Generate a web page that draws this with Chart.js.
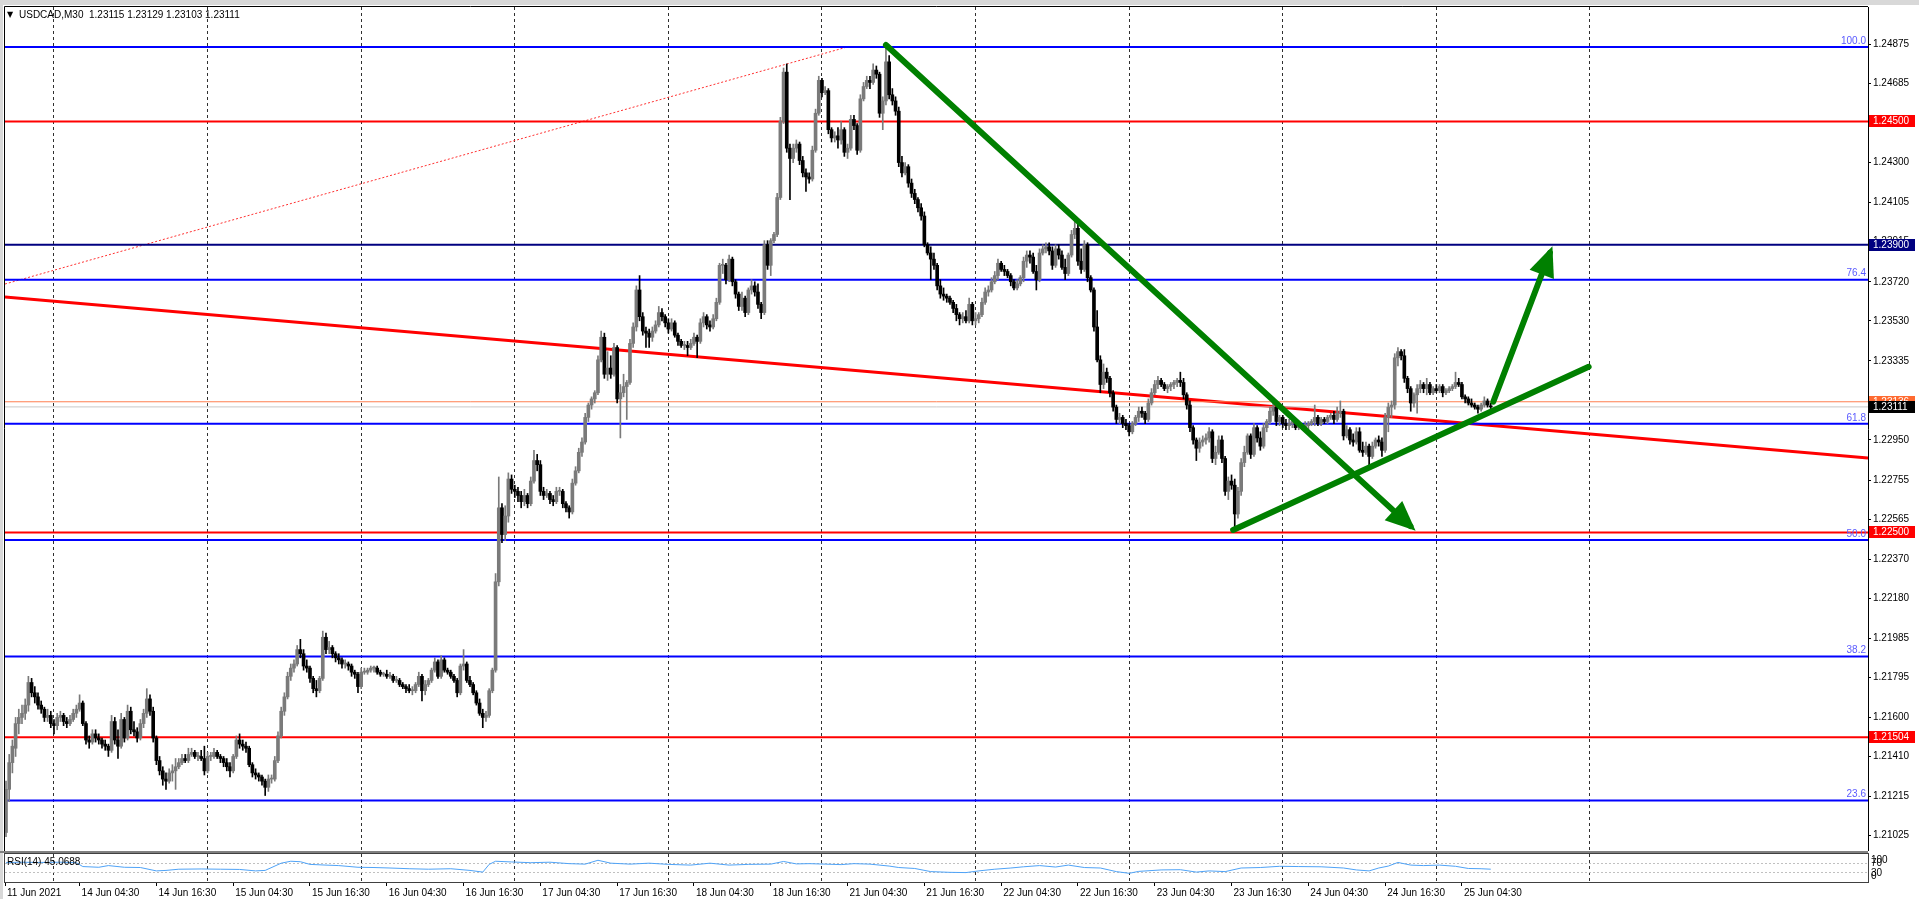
<!DOCTYPE html>
<html>
<head>
<meta charset="utf-8">
<title>USDCAD,M30</title>
<script src="https://cdn.jsdelivr.net/npm/chart.js@4.4.1/dist/chart.umd.min.js"></script>
<style>
  html, body { margin: 0; padding: 0; background: #fff; }
  body { width: 1919px; height: 899px; position: relative; overflow: hidden; }
  #price { position: absolute; left: 0; top: 0; }
  #rsi { position: absolute; left: 0; top: 851px; }
</style>
</head>
<body>
<canvas id="price" width="1919" height="851"></canvas>
<canvas id="rsi" width="1919" height="48"></canvas>
<script>
const symbolTitle = 'USDCAD,M30  1.23115 1.23129 1.23103 1.23111';
const rsiTitle = 'RSI(14) 45.0688';

// M30 candles [open, high, low, close], 11 Jun 2021 evening .. 25 Jun 2021 morning
const candles = [
  [1.2104,1.2129,1.2102,1.2125],[1.2125,1.2142,1.2119,1.2138],[1.2138,1.2149,1.2133,1.2146],[1.2145,1.2160,1.2141,1.2157],[1.2157,1.2164,1.2152,1.2160],
  [1.2160,1.2166,1.2157,1.2162],[1.2162,1.2169,1.2159,1.2166],[1.2166,1.2180,1.2163,1.2177],[1.2177,1.2179,1.2170,1.2172],[1.2172,1.2175,1.2167,1.2170],
  [1.2170,1.2172,1.2164,1.2166],[1.2166,1.2168,1.2162,1.2164],[1.2164,1.2165,1.2158,1.2160],[1.2160,1.2164,1.2158,1.2161],[1.2161,1.2163,1.2155,1.2157],
  [1.2157,1.2159,1.2152,1.2156],[1.2156,1.2162,1.2154,1.2160],[1.2160,1.2163,1.2158,1.2161],[1.2161,1.2162,1.2156,1.2158],[1.2158,1.2160,1.2155,1.2157],
  [1.2157,1.2161,1.2156,1.2159],[1.2159,1.2164,1.2158,1.2162],[1.2162,1.2166,1.2160,1.2164],[1.2164,1.2171,1.2163,1.2167],[1.2167,1.2168,1.2156,1.2157],
  [1.2157,1.2158,1.2147,1.2149],[1.2149,1.2151,1.2145,1.2148],[1.2148,1.2154,1.2147,1.2152],[1.2152,1.2154,1.2148,1.2150],[1.2150,1.2152,1.2147,1.2149],
  [1.2149,1.2150,1.2145,1.2147],[1.2147,1.2149,1.2144,1.2146],[1.2146,1.2147,1.2141,1.2144],[1.2144,1.2161,1.2143,1.2158],[1.2158,1.2160,1.2147,1.2149],
  [1.2149,1.2154,1.2140,1.2146],[1.2146,1.2162,1.2145,1.2159],[1.2159,1.2160,1.2148,1.2150],[1.2150,1.2166,1.2149,1.2163],[1.2163,1.2165,1.2152,1.2154],
  [1.2154,1.2158,1.2151,1.2153],[1.2153,1.2155,1.2148,1.2150],[1.2150,1.2159,1.2149,1.2157],[1.2157,1.2164,1.2155,1.2162],[1.2162,1.2174,1.2160,1.2169],
  [1.2169,1.2171,1.2161,1.2163],[1.2163,1.2165,1.2148,1.2150],[1.2150,1.2151,1.2137,1.2139],[1.2139,1.2141,1.2132,1.2134],[1.2134,1.2136,1.2127,1.2130],
  [1.2130,1.2133,1.2125,1.2129],[1.2129,1.2135,1.2128,1.2133],[1.2133,1.2137,1.2129,1.2134],[1.2134,1.2140,1.2125,1.2136],[1.2136,1.2140,1.2135,1.2138],
  [1.2138,1.2142,1.2137,1.2140],[1.2140,1.2142,1.2138,1.2139],[1.2139,1.2145,1.2138,1.2142],[1.2142,1.2145,1.2141,1.2143],[1.2143,1.2144,1.2140,1.2141],
  [1.2141,1.2143,1.2139,1.2141],[1.2141,1.2144,1.2139,1.2140],[1.2140,1.2146,1.2132,1.2134],[1.2134,1.2143,1.2133,1.2141],[1.2141,1.2143,1.2139,1.2141],
  [1.2141,1.2145,1.2140,1.2143],[1.2143,1.2144,1.2140,1.2141],[1.2141,1.2142,1.2138,1.2140],[1.2140,1.2141,1.2136,1.2138],[1.2138,1.2140,1.2134,1.2136],
  [1.2136,1.2138,1.2131,1.2134],[1.2134,1.2142,1.2133,1.2141],[1.2141,1.2151,1.2140,1.2149],[1.2149,1.2152,1.2145,1.2147],[1.2147,1.2149,1.2144,1.2146],
  [1.2146,1.2148,1.2143,1.2145],[1.2145,1.2146,1.2136,1.2137],[1.2137,1.2138,1.2131,1.2133],[1.2133,1.2135,1.2130,1.2132],[1.2132,1.2133,1.2129,1.2131],
  [1.2131,1.2132,1.2127,1.2129],[1.2129,1.2130,1.2122,1.2126],[1.2126,1.2132,1.2124,1.2130],[1.2130,1.2132,1.2128,1.2130],[1.2130,1.2141,1.2129,1.2139],
  [1.2139,1.2153,1.2138,1.2151],[1.2151,1.2165,1.2150,1.2163],[1.2163,1.2172,1.2161,1.2170],[1.2170,1.2182,1.2169,1.2180],[1.2180,1.2186,1.2178,1.2184],
  [1.2184,1.2188,1.2182,1.2186],[1.2186,1.2195,1.2185,1.2193],[1.2193,1.2198,1.2189,1.2191],[1.2191,1.2193,1.2183,1.2185],[1.2185,1.2188,1.2182,1.2184],
  [1.2184,1.2185,1.2177,1.2179],[1.2179,1.2180,1.2172,1.2174],[1.2174,1.2178,1.2170,1.2173],[1.2173,1.2180,1.2172,1.2179],[1.2179,1.2202,1.2178,1.2199],
  [1.2199,1.2201,1.2191,1.2193],[1.2193,1.2197,1.2191,1.2194],[1.2194,1.2195,1.2189,1.2191],[1.2191,1.2192,1.2187,1.2189],[1.2189,1.2191,1.2186,1.2188],
  [1.2188,1.2189,1.2184,1.2186],[1.2186,1.2188,1.2184,1.2186],[1.2186,1.2187,1.2183,1.2185],[1.2185,1.2186,1.2180,1.2182],[1.2182,1.2183,1.2179,1.2181],
  [1.2181,1.2182,1.2172,1.2175],[1.2175,1.2184,1.2174,1.2182],[1.2182,1.2184,1.2181,1.2182],[1.2182,1.2184,1.2181,1.2183],[1.2183,1.2185,1.2182,1.2184],
  [1.2184,1.2185,1.2182,1.2184],[1.2184,1.2185,1.2181,1.2182],[1.2182,1.2183,1.2180,1.2181],[1.2181,1.2182,1.2180,1.2181],[1.2181,1.2183,1.2179,1.2180],
  [1.2180,1.2182,1.2179,1.2180],[1.2180,1.2181,1.2177,1.2178],[1.2178,1.2180,1.2177,1.2178],[1.2178,1.2179,1.2175,1.2176],[1.2176,1.2177,1.2174,1.2175],
  [1.2175,1.2176,1.2172,1.2174],[1.2174,1.2176,1.2172,1.2173],[1.2173,1.2175,1.2171,1.2173],[1.2173,1.2177,1.2172,1.2176],[1.2176,1.2182,1.2175,1.2180],
  [1.2180,1.2181,1.2168,1.2173],[1.2173,1.2178,1.2171,1.2176],[1.2176,1.2179,1.2175,1.2178],[1.2178,1.2184,1.2177,1.2183],[1.2183,1.2189,1.2182,1.2187],
  [1.2187,1.2188,1.2179,1.2180],[1.2180,1.2190,1.2179,1.2188],[1.2188,1.2189,1.2182,1.2183],[1.2183,1.2184,1.2181,1.2182],[1.2182,1.2183,1.2179,1.2180],
  [1.2180,1.2181,1.2177,1.2178],[1.2178,1.2179,1.2170,1.2172],[1.2172,1.2186,1.2171,1.2185],[1.2185,1.2193,1.2183,1.2186],[1.2186,1.2187,1.2177,1.2178],
  [1.2178,1.2180,1.2175,1.2176],[1.2176,1.2177,1.2171,1.2172],[1.2172,1.2173,1.2166,1.2167],[1.2167,1.2169,1.2161,1.2162],[1.2162,1.2164,1.2155,1.2160],
  [1.2160,1.2163,1.2158,1.2161],[1.2161,1.2174,1.2160,1.2173],[1.2173,1.2184,1.2172,1.2183],[1.2183,1.2230,1.2182,1.2226],[1.2226,1.2277,1.2224,1.2262],
  [1.2262,1.2264,1.2245,1.2249],[1.2249,1.2263,1.2246,1.2258],[1.2258,1.2279,1.2255,1.2276],[1.2276,1.2278,1.2269,1.2271],[1.2271,1.2273,1.2267,1.2270],
  [1.2270,1.2272,1.2265,1.2268],[1.2268,1.2270,1.2262,1.2265],[1.2265,1.2271,1.2263,1.2268],[1.2268,1.2269,1.2262,1.2264],[1.2264,1.2277,1.2263,1.2275],
  [1.2275,1.2290,1.2274,1.2285],[1.2285,1.2288,1.2280,1.2283],[1.2283,1.2285,1.2268,1.2270],[1.2270,1.2272,1.2266,1.2268],[1.2268,1.2271,1.2267,1.2269],
  [1.2269,1.2270,1.2264,1.2266],[1.2266,1.2268,1.2263,1.2265],[1.2265,1.2272,1.2264,1.2270],[1.2270,1.2272,1.2268,1.2270],[1.2270,1.2271,1.2262,1.2264],
  [1.2264,1.2265,1.2260,1.2262],[1.2262,1.2263,1.2257,1.2260],[1.2260,1.2276,1.2259,1.2274],[1.2274,1.2282,1.2273,1.2280],[1.2280,1.2291,1.2279,1.2289],
  [1.2289,1.2296,1.2287,1.2294],[1.2294,1.2308,1.2293,1.2306],[1.2306,1.2313,1.2304,1.2312],[1.2312,1.2316,1.2310,1.2315],[1.2315,1.2319,1.2313,1.2318],
  [1.2318,1.2336,1.2317,1.2334],[1.2334,1.2348,1.2333,1.2345],[1.2345,1.2347,1.2325,1.2327],[1.2327,1.2338,1.2324,1.2330],[1.2330,1.2336,1.2325,1.2327],
  [1.2327,1.2342,1.2326,1.2340],[1.2340,1.2341,1.2313,1.2315],[1.2315,1.2322,1.2296,1.2318],[1.2318,1.2327,1.2316,1.2321],[1.2321,1.2324,1.2305,1.2323],
  [1.2323,1.2344,1.2322,1.2342],[1.2342,1.2352,1.2340,1.2350],[1.2350,1.2370,1.2348,1.2368],[1.2368,1.2375,1.2353,1.2355],[1.2355,1.2357,1.2346,1.2348],
  [1.2348,1.2350,1.2340,1.2347],[1.2347,1.2349,1.2340,1.2345],[1.2345,1.2350,1.2343,1.2348],[1.2348,1.2353,1.2347,1.2351],[1.2351,1.2360,1.2350,1.2357],
  [1.2357,1.2359,1.2353,1.2355],[1.2355,1.2356,1.2350,1.2352],[1.2352,1.2354,1.2347,1.2349],[1.2349,1.2354,1.2348,1.2352],[1.2352,1.2353,1.2345,1.2346],
  [1.2346,1.2347,1.2341,1.2343],[1.2343,1.2344,1.2340,1.2341],[1.2341,1.2343,1.2339,1.2341],[1.2341,1.2343,1.2336,1.2340],[1.2340,1.2344,1.2339,1.2342],
  [1.2342,1.2347,1.2341,1.2345],[1.2345,1.2346,1.2335,1.2343],[1.2343,1.2354,1.2342,1.2352],[1.2352,1.2357,1.2350,1.2355],[1.2355,1.2356,1.2349,1.2351],
  [1.2351,1.2353,1.2348,1.2350],[1.2350,1.2356,1.2349,1.2354],[1.2354,1.2364,1.2353,1.2362],[1.2362,1.2381,1.2361,1.2380],[1.2380,1.2383,1.2376,1.2380],
  [1.2380,1.2381,1.2371,1.2373],[1.2373,1.2385,1.2372,1.2383],[1.2383,1.2384,1.2370,1.2372],[1.2372,1.2373,1.2364,1.2366],[1.2366,1.2367,1.2358,1.2360],
  [1.2360,1.2367,1.2358,1.2364],[1.2364,1.2365,1.2355,1.2357],[1.2357,1.2369,1.2356,1.2368],[1.2368,1.2373,1.2366,1.2370],[1.2370,1.2372,1.2365,1.2367],
  [1.2367,1.2371,1.2359,1.2361],[1.2361,1.2362,1.2354,1.2357],[1.2357,1.2392,1.2356,1.2390],[1.2390,1.2392,1.2378,1.2380],[1.2380,1.2393,1.2375,1.2392],
  [1.2392,1.2396,1.2391,1.2395],[1.2395,1.2415,1.2394,1.2413],[1.2413,1.2452,1.2412,1.2450],[1.2450,1.2476,1.2449,1.2474],[1.2474,1.2478,1.2435,1.2437],
  [1.2437,1.2439,1.2412,1.2432],[1.2432,1.2439,1.2430,1.2437],[1.2437,1.2441,1.2435,1.2439],[1.2439,1.2440,1.2429,1.2431],[1.2431,1.2433,1.2423,1.2425],
  [1.2425,1.2427,1.2416,1.2423],[1.2423,1.2425,1.2420,1.2422],[1.2422,1.2438,1.2421,1.2436],[1.2436,1.2456,1.2435,1.2454],[1.2454,1.2472,1.2453,1.2470],
  [1.2470,1.2471,1.2462,1.2464],[1.2464,1.2467,1.2463,1.2465],[1.2465,1.2466,1.2444,1.2446],[1.2446,1.2447,1.2440,1.2442],[1.2442,1.2445,1.2440,1.2443],
  [1.2443,1.2447,1.2437,1.2441],[1.2441,1.2450,1.2439,1.2446],[1.2446,1.2447,1.2433,1.2435],[1.2435,1.2439,1.2432,1.2437],[1.2437,1.2453,1.2436,1.2451],
  [1.2451,1.2453,1.2446,1.2448],[1.2448,1.2449,1.2434,1.2436],[1.2436,1.2463,1.2435,1.2461],[1.2461,1.2469,1.2460,1.2467],[1.2467,1.2472,1.2466,1.2470],
  [1.2470,1.2472,1.2466,1.2469],[1.2469,1.2478,1.2468,1.2475],[1.2475,1.2477,1.2471,1.2473],[1.2473,1.2474,1.2452,1.2454],[1.2454,1.2462,1.2446,1.2460],
  [1.2460,1.2487,1.2458,1.2479],[1.2479,1.2482,1.2461,1.2463],[1.2463,1.2466,1.2458,1.2460],[1.2460,1.2462,1.2453,1.2455],[1.2455,1.2457,1.2428,1.2430],
  [1.2430,1.2433,1.2423,1.2425],[1.2425,1.2430,1.2424,1.2428],[1.2428,1.2429,1.2418,1.2420],[1.2420,1.2422,1.2413,1.2415],[1.2415,1.2417,1.2410,1.2412],
  [1.2412,1.2413,1.2406,1.2408],[1.2408,1.2410,1.2402,1.2404],[1.2404,1.2406,1.2389,1.2390],[1.2390,1.2391,1.2385,1.2386],[1.2386,1.2389,1.2373,1.2383],
  [1.2383,1.2386,1.2378,1.2380],[1.2380,1.2381,1.2368,1.2370],[1.2370,1.2373,1.2364,1.2366],[1.2366,1.2369,1.2363,1.2365],[1.2365,1.2366,1.2362,1.2364],
  [1.2364,1.2365,1.2361,1.2362],[1.2362,1.2363,1.2357,1.2359],[1.2359,1.2361,1.2353,1.2356],[1.2356,1.2357,1.2351,1.2354],[1.2354,1.2357,1.2352,1.2355],
  [1.2355,1.2358,1.2352,1.2353],[1.2353,1.2364,1.2352,1.2361],[1.2361,1.2362,1.2351,1.2353],[1.2353,1.2357,1.2351,1.2354],[1.2354,1.2357,1.2352,1.2356],
  [1.2356,1.2364,1.2355,1.2362],[1.2362,1.2369,1.2361,1.2367],[1.2367,1.2370,1.2365,1.2368],[1.2368,1.2374,1.2367,1.2372],[1.2372,1.2377,1.2371,1.2375],
  [1.2375,1.2383,1.2373,1.2381],[1.2381,1.2382,1.2377,1.2378],[1.2378,1.2380,1.2375,1.2377],[1.2377,1.2378,1.2374,1.2375],[1.2375,1.2376,1.2370,1.2372],
  [1.2372,1.2373,1.2368,1.2369],[1.2369,1.2373,1.2368,1.2371],[1.2371,1.2375,1.2370,1.2374],[1.2374,1.2384,1.2372,1.2382],[1.2382,1.2387,1.2379,1.2385],
  [1.2385,1.2387,1.2381,1.2384],[1.2384,1.2386,1.2376,1.2377],[1.2377,1.2380,1.2368,1.2373],[1.2373,1.2388,1.2372,1.2386],[1.2386,1.2390,1.2385,1.2388],
  [1.2388,1.2391,1.2386,1.2389],[1.2389,1.2391,1.2385,1.2387],[1.2387,1.2389,1.2378,1.2380],[1.2380,1.2390,1.2379,1.2388],[1.2388,1.2390,1.2383,1.2385],
  [1.2385,1.2387,1.2378,1.2379],[1.2379,1.2383,1.2373,1.2376],[1.2376,1.2386,1.2375,1.2385],[1.2385,1.2397,1.2384,1.2395],[1.2395,1.2402,1.2393,1.2398],
  [1.2398,1.2400,1.2380,1.2382],[1.2382,1.2388,1.2376,1.2378],[1.2378,1.2392,1.2377,1.2390],[1.2390,1.2391,1.2372,1.2374],[1.2374,1.2375,1.2367,1.2368],
  [1.2368,1.2369,1.2348,1.2350],[1.2350,1.2358,1.2333,1.2334],[1.2334,1.2336,1.2318,1.2322],[1.2322,1.2332,1.2320,1.2328],[1.2328,1.2330,1.2323,1.2325],
  [1.2325,1.2326,1.2316,1.2318],[1.2318,1.2319,1.2309,1.2311],[1.2311,1.2312,1.2303,1.2305],[1.2305,1.2308,1.2303,1.2306],[1.2306,1.2307,1.2301,1.2303],
  [1.2303,1.2305,1.2300,1.2302],[1.2302,1.2303,1.2297,1.2299],[1.2299,1.2304,1.2298,1.2303],[1.2303,1.2307,1.2302,1.2306],[1.2306,1.2311,1.2304,1.2309],
  [1.2309,1.2311,1.2306,1.2308],[1.2308,1.2309,1.2303,1.2305],[1.2305,1.2315,1.2304,1.2313],[1.2313,1.2320,1.2312,1.2318],[1.2318,1.2324,1.2317,1.2322],
  [1.2322,1.2326,1.2320,1.2324],[1.2324,1.2325,1.2321,1.2322],[1.2322,1.2323,1.2319,1.2320],[1.2320,1.2322,1.2318,1.2321],[1.2321,1.2323,1.2319,1.2322],
  [1.2322,1.2324,1.2320,1.2323],[1.2323,1.2325,1.2321,1.2324],[1.2324,1.2328,1.2321,1.2323],[1.2323,1.2325,1.2315,1.2317],[1.2317,1.2318,1.2310,1.2312],
  [1.2312,1.2314,1.2299,1.2301],[1.2301,1.2302,1.2293,1.2295],[1.2295,1.2296,1.2285,1.2291],[1.2291,1.2296,1.2289,1.2294],[1.2294,1.2297,1.2292,1.2295],
  [1.2295,1.2298,1.2293,1.2296],[1.2296,1.2301,1.2294,1.2299],[1.2299,1.2300,1.2284,1.2286],[1.2286,1.2292,1.2283,1.2289],[1.2289,1.2297,1.2288,1.2295],
  [1.2295,1.2297,1.2284,1.2286],[1.2286,1.2287,1.2268,1.2270],[1.2270,1.2277,1.2266,1.2275],[1.2275,1.2278,1.2271,1.2273],[1.2273,1.2276,1.2251,1.2259],
  [1.2259,1.2272,1.2257,1.2270],[1.2270,1.2286,1.2268,1.2284],[1.2284,1.2292,1.2282,1.2289],[1.2289,1.2298,1.2288,1.2297],[1.2297,1.2298,1.2286,1.2288],
  [1.2288,1.2303,1.2287,1.2301],[1.2301,1.2302,1.2294,1.2296],[1.2296,1.2299,1.2290,1.2292],[1.2292,1.2303,1.2291,1.2301],[1.2301,1.2305,1.2299,1.2304],
  [1.2304,1.2311,1.2303,1.2309],[1.2309,1.2313,1.2307,1.2311],[1.2311,1.2312,1.2302,1.2304],[1.2304,1.2307,1.2302,1.2306],[1.2306,1.2307,1.2301,1.2303],
  [1.2303,1.2305,1.2300,1.2302],[1.2302,1.2305,1.2300,1.2303],[1.2303,1.2305,1.2301,1.2304],[1.2304,1.2305,1.2300,1.2301],[1.2301,1.2303,1.2300,1.2302],
  [1.2302,1.2303,1.2300,1.2301],[1.2301,1.2304,1.2300,1.2302],[1.2302,1.2304,1.2300,1.2303],[1.2303,1.2305,1.2302,1.2304],[1.2304,1.2312,1.2302,1.2306],
  [1.2306,1.2307,1.2302,1.2303],[1.2303,1.2306,1.2302,1.2305],[1.2305,1.2306,1.2303,1.2304],[1.2304,1.2307,1.2303,1.2306],[1.2306,1.2308,1.2305,1.2307],
  [1.2307,1.2309,1.2303,1.2305],[1.2305,1.2311,1.2304,1.2308],[1.2308,1.2314,1.2306,1.2309],[1.2309,1.2310,1.2295,1.2297],[1.2297,1.2302,1.2296,1.2300],
  [1.2300,1.2301,1.2293,1.2295],[1.2295,1.2298,1.2292,1.2294],[1.2294,1.2301,1.2293,1.2299],[1.2299,1.2301,1.2289,1.2290],[1.2290,1.2294,1.2287,1.2289],
  [1.2289,1.2294,1.2288,1.2292],[1.2292,1.2293,1.2281,1.2287],[1.2287,1.2294,1.2286,1.2292],[1.2292,1.2296,1.2291,1.2295],[1.2295,1.2297,1.2292,1.2294],
  [1.2294,1.2296,1.2287,1.2290],[1.2290,1.2308,1.2289,1.2306],[1.2306,1.2313,1.2299,1.2311],[1.2311,1.2314,1.2306,1.2312],[1.2312,1.2337,1.2310,1.2335],
  [1.2335,1.2340,1.2331,1.2338],[1.2338,1.2339,1.2334,1.2336],[1.2336,1.2339,1.2323,1.2325],[1.2325,1.2326,1.2318,1.2320],[1.2320,1.2321,1.2309,1.2313],
  [1.2313,1.2318,1.2311,1.2317],[1.2317,1.2322,1.2308,1.2320],[1.2320,1.2324,1.2318,1.2322],[1.2322,1.2323,1.2318,1.2320],[1.2320,1.2325,1.2317,1.2322],
  [1.2322,1.2323,1.2317,1.2318],[1.2318,1.2321,1.2317,1.2320],[1.2320,1.2322,1.2318,1.2319],[1.2319,1.2322,1.2318,1.2321],[1.2321,1.2322,1.2316,1.2318],
  [1.2318,1.2320,1.2317,1.2319],[1.2319,1.2321,1.2318,1.2320],[1.2320,1.2322,1.2319,1.2321],[1.2321,1.2328,1.2320,1.2323],[1.2323,1.2325,1.2321,1.2322],
  [1.2322,1.2323,1.2315,1.2316],[1.2316,1.2317,1.2313,1.2315],[1.2315,1.2316,1.2312,1.2313],[1.2313,1.2315,1.2311,1.2312],[1.2312,1.2313,1.2310,1.2311],
  [1.2311,1.2312,1.2308,1.2310],[1.2310,1.2313,1.2309,1.2312],[1.2312,1.2316,1.2311,1.2314],[1.2314,1.2315,1.2311,1.2312],[1.23115,1.23129,1.23103,1.23111]
];

const timeLabels = ['11 Jun 2021', '14 Jun 04:30', '14 Jun 16:30', '15 Jun 04:30', '15 Jun 16:30', '16 Jun 04:30',
  '16 Jun 16:30', '17 Jun 04:30', '17 Jun 16:30', '18 Jun 04:30', '18 Jun 16:30', '21 Jun 04:30', '21 Jun 16:30',
  '22 Jun 04:30', '22 Jun 16:30', '23 Jun 04:30', '23 Jun 16:30', '24 Jun 04:30', '24 Jun 16:30', '25 Jun 04:30'];

const priceTicks = [1.24875, 1.24685, 1.24490, 1.24300, 1.24105, 1.23915, 1.23720, 1.23530, 1.23335, 1.23140,
  1.22950, 1.22755, 1.22565, 1.22370, 1.22180, 1.21985, 1.21795, 1.21600, 1.21410, 1.21215, 1.21025];

// fibonacci retracement levels
const fibLevels = [1.24862, 1.23730, 1.23029, 1.22463, 1.21897, 1.21196];
const fibNames = ['100.0', '76.4', '61.8', '50.0', '38.2', '23.6'];
// horizontal support / resistance
const redLevels = [1.24500, 1.22500, 1.21504];
const navyLevel = 1.23900;
const askPrice = 1.23136;
const bidPrice = 1.23111;

// trend lines, [bar index, price]
const redTrend = [[-0.31, 1.23646], [581.9, 1.22862]];
const fibDiagonal = [[-0.31, 1.23709], [262.8, 1.24862]];
const greenDown = [[275, 1.24872], [438.9, 1.22531]];
const greenUp = [[383.5, 1.22512], [494.6, 1.23306]];
const greenArrow = [[464.8, 1.23136], [482.5, 1.23861]];

// RSI(14)
const rsiBars = [0, 4, 11, 17, 22, 24, 29, 32, 37, 42, 47, 50, 54, 61, 67, 73, 78, 81, 86, 89, 92, 95, 100, 104, 110,
  115, 120, 126, 132, 139, 145, 149, 151, 153, 158, 164, 170, 176, 181, 185, 189, 195, 201, 207, 214, 220, 226, 232,
  239, 243, 247, 251, 256, 261, 265, 270, 276, 279, 284, 289, 295, 300, 304, 309, 314, 318, 323, 328, 332, 337, 342,
  347, 351, 354, 361, 367, 372, 376, 381, 386, 392, 398, 404, 411, 418, 422, 426, 429, 432, 435, 439, 443, 448, 453,
  457, 461, 464];
const rsiValues = [72, 74, 73, 74, 72, 56, 53, 60, 53, 52, 38, 40, 45, 46, 45, 44, 38, 40, 70, 78, 76, 65, 62, 60, 53,
  52, 50, 47, 45, 47, 40, 33, 65, 78, 75, 72, 74, 68, 66, 82, 70, 66, 70, 65, 62, 70, 62, 65,
  66, 77, 67, 68, 66, 64, 68, 66, 58, 52, 48, 35, 32, 31, 38, 45, 50, 55, 60, 54, 62, 52, 50,
  35, 28, 36, 42, 43, 33, 38, 35, 50, 52, 57, 56, 55, 50, 42, 38, 50, 58, 73, 62, 60, 62, 57,
  48, 47, 45.07];

const xLeft = -0.31, xRight = 581.9;
const priceMin = 1.20950, priceMax = 1.25057;

const dayBars = [];
for (let b = 15; b <= 495; b += 48) dayBars.push(b);
const labelBars = timeLabels.map((_, k) => (k === 0 ? xLeft : 23 + 24 * (k - 1)));

Chart.defaults.font.family = "'Liberation Sans', Arial, sans-serif";
Chart.defaults.font.size = 10;
Chart.defaults.color = '#000000';

const bull = '#7a7a7a', bear = '#000000', green = '#008000';
const candleColors = candles.map(c => (c[3] >= c[0] ? bull : bear));

const flat = p => [{ x: xLeft, y: p }, { x: xRight, y: p }];
const seg = pts => pts.map(p => ({ x: p[0], y: p[1] }));

function lineSet(data, color, width, extra) {
  return Object.assign({ type: 'line', data, borderColor: color, borderWidth: width, pointRadius: 0, fill: false, order: 3 }, extra || {});
}

function arrowHead(ctx, xs, ys, from, to) {
  const x0 = xs.getPixelForValue(from[0]), y0 = ys.getPixelForValue(from[1]);
  const x1 = xs.getPixelForValue(to[0]), y1 = ys.getPixelForValue(to[1]);
  const len = Math.hypot(x1 - x0, y1 - y0);
  const ux = (x1 - x0) / len, uy = (y1 - y0) / len;
  const tx = x1 + ux * 7, ty = y1 + uy * 7;
  const bx = tx - ux * 30, by = ty - uy * 30;
  ctx.beginPath();
  ctx.moveTo(tx, ty);
  ctx.lineTo(bx - uy * 13, by + ux * 13);
  ctx.lineTo(bx + uy * 13, by - ux * 13);
  ctx.closePath();
  ctx.fill();
}

const priceOverlay = {
  id: 'priceOverlay',
  beforeDraw(chart) {
    const { ctx, width, height } = chart;
    ctx.save();
    ctx.fillStyle = '#ffffff';
    ctx.fillRect(0, 0, width, height);
    ctx.fillStyle = '#d8d8d8';
    ctx.fillRect(0, 0, width, 5);
    ctx.fillRect(0, 0, 3, height);
    ctx.restore();
  },
  afterDatasetsDraw(chart) {
    const { ctx, scales: { x, y } } = chart;
    ctx.save();
    ctx.fillStyle = green;
    arrowHead(ctx, x, y, greenDown[0], greenDown[1]);
    arrowHead(ctx, x, y, greenArrow[0], greenArrow[1]);
    ctx.restore();
  },
  afterDraw(chart) {
    const { ctx, chartArea: a, scales: { y } } = chart;
    ctx.save();
    // frame
    ctx.strokeStyle = '#000000';
    ctx.lineWidth = 1;
    ctx.beginPath();
    ctx.moveTo(a.left - 0.5, a.bottom);
    ctx.lineTo(a.left - 0.5, a.top - 0.5);
    ctx.lineTo(a.right, a.top - 0.5);
    ctx.stroke();

    ctx.font = "10px 'Liberation Sans', Arial, sans-serif";
    // fibonacci level names
    ctx.fillStyle = '#5a5aff';
    ctx.textAlign = 'right';
    ctx.textBaseline = 'bottom';
    fibLevels.forEach((p, k) => ctx.fillText(fibNames[k], a.right - 2, y.getPixelForValue(p) - 1));

    // price boxes on the axis
    const boxes = [[redLevels[0], '#ff0000'], [navyLevel, '#000080'], [askPrice, '#ff6a30'],
      [bidPrice, '#000000'], [redLevels[1], '#ff0000'], [redLevels[2], '#ff0000']];
    ctx.textAlign = 'left';
    ctx.textBaseline = 'middle';
    boxes.forEach(([p, col]) => {
      const py = Math.round(y.getPixelForValue(p));
      ctx.fillStyle = col;
      ctx.fillRect(a.right + 1, py - 6, 46, 12);
      ctx.fillStyle = '#ffffff';
      ctx.fillText(p.toFixed(5), a.right + 5, py + 0.5);
    });

    // symbol title
    ctx.fillStyle = '#000000';
    ctx.font = "8px 'DejaVu Sans', sans-serif";
    ctx.fillText('\u25BC', a.left + 2, 15);
    ctx.font = "10px 'Liberation Sans', Arial, sans-serif";
    ctx.fillText(symbolTitle, a.left + 14, 15);
    ctx.restore();
  }
};

new Chart(document.getElementById('price'), {
  type: 'bar',
  data: {
    datasets: [
      ...fibLevels.map(p => lineSet(flat(p), '#0000ff', 2)),
      ...redLevels.map(p => lineSet(flat(p), '#ff0000', 2)),
      lineSet(flat(navyLevel), '#000080', 2),
      lineSet(flat(askPrice), '#ff7f50', 1),
      lineSet(flat(bidPrice), '#c8c8c8', 1),
      lineSet(seg(redTrend), '#ff0000', 3),
      lineSet(seg(fibDiagonal), '#ff3030', 1, { borderDash: [2, 2] }),
      {
        type: 'bar',
        data: candles.map((c, i) => ({ x: i, y: [c[2], c[1]] })),
        backgroundColor: candleColors,
        barThickness: 1,
        grouped: false,
        order: 2
      },
      {
        type: 'bar',
        data: candles.map((c, i) => ({ x: i, y: [c[0], c[3]] })),
        backgroundColor: candleColors,
        barThickness: 3,
        minBarLength: 1,
        grouped: false,
        order: 1
      },
      lineSet(seg(greenDown), green, 6, { order: 0, borderCapStyle: 'round' }),
      lineSet(seg(greenUp), green, 6, { order: 0, borderCapStyle: 'round' }),
      lineSet(seg(greenArrow), green, 6, { order: 0, borderCapStyle: 'round' })
    ]
  },
  options: {
    responsive: false,
    animation: false,
    events: [],
    layout: { padding: { left: 5, top: 7, right: 0, bottom: 0 } },
    plugins: { legend: { display: false }, tooltip: { enabled: false } },
    scales: {
      x: {
        type: 'linear', min: xLeft, max: xRight, offset: false,
        afterBuildTicks: s => { s.ticks = dayBars.map(v => ({ value: v })); },
        afterFit: s => { s.height = 0; s.paddingLeft = 0; s.paddingRight = 0; },
        ticks: { display: false },
        grid: { color: '#303030', lineWidth: 1, drawTicks: false, offset: false },
        border: { display: false, dash: [3, 3] }
      },
      y: {
        type: 'linear', position: 'right', min: priceMin, max: priceMax, beginAtZero: false,
        afterBuildTicks: s => { s.ticks = priceTicks.map(v => ({ value: v })); },
        afterFit: s => { s.width = 51; s.paddingTop = 0; s.paddingBottom = 0; },
        ticks: { callback: v => v.toFixed(5), padding: 2, autoSkip: false, color: '#000000' },
        grid: { drawOnChartArea: false, tickLength: 3, color: '#000000' },
        border: { display: true, color: '#000000', width: 1 }
      }
    }
  },
  plugins: [priceOverlay]
});

const rsiOverlay = {
  id: 'rsiOverlay',
  beforeDraw(chart) {
    const { ctx, chartArea: a, width, height } = chart;
    ctx.save();
    ctx.fillStyle = '#ffffff';
    ctx.fillRect(0, 0, width, height);
    ctx.fillStyle = '#d8d8d8';
    ctx.fillRect(0, 0, 3, height);
    ctx.fillStyle = '#808080';
    ctx.fillRect(0, 0, a.right, 2);
    ctx.restore();
  },
  afterDraw(chart) {
    const { ctx, chartArea: a, scales: { y } } = chart;
    ctx.save();
    ctx.strokeStyle = '#404040';
    ctx.lineWidth = 1;
    ctx.strokeRect(a.left - 0.5, a.top - 0.5, a.right - a.left + 1, a.bottom - a.top + 1);
    ctx.font = "10px 'Liberation Sans', Arial, sans-serif";
    ctx.fillStyle = '#000000';
    ctx.textBaseline = 'middle';
    ctx.textAlign = 'left';
    ctx.fillText(rsiTitle, a.left + 2, y.getPixelForValue(70) - 0.5);
    [100, 70, 30, 0].forEach(v => {
      const py = Math.min(Math.max(y.getPixelForValue(v), a.top + 6), a.bottom - 6);
      ctx.fillText(String(v), a.right + 3, py);
    });
    ctx.restore();
  }
};

new Chart(document.getElementById('rsi'), {
  type: 'line',
  data: {
    datasets: [{
      data: rsiBars.map((b, k) => ({ x: b, y: rsiValues[k] })),
      borderColor: '#4fa3f7',
      borderWidth: 1,
      pointRadius: 0,
      tension: 0,
      fill: false
    }]
  },
  options: {
    responsive: false,
    animation: false,
    events: [],
    layout: { padding: { left: 5, top: 3, right: 0, bottom: 0 } },
    plugins: { legend: { display: false }, tooltip: { enabled: false } },
    scales: {
      x: {
        type: 'linear', min: xLeft, max: xRight, offset: false,
        afterBuildTicks: s => { s.ticks = dayBars.map(v => ({ value: v })); },
        afterFit: s => { s.height = 0; s.paddingLeft = 0; s.paddingRight = 0; },
        ticks: { display: false },
        grid: { color: '#303030', drawTicks: false },
        border: { display: false, dash: [3, 3] }
      },
      xt: {
        type: 'linear', position: 'bottom', min: xLeft, max: xRight, offset: false,
        afterBuildTicks: s => { s.ticks = labelBars.map(v => ({ value: v })); },
        afterFit: s => { s.height = 17; s.paddingLeft = 0; s.paddingRight = 0; },
        ticks: { callback: (v, k) => timeLabels[k], align: 'start', labelOffset: 2, maxRotation: 0, autoSkip: false, padding: 1, color: '#000000' },
        grid: { drawOnChartArea: false, tickLength: 4, color: '#000000' },
        border: { display: false }
      },
      y: {
        type: 'linear', position: 'right', min: -8, max: 108,
        afterBuildTicks: s => { s.ticks = [{ value: 30 }, { value: 70 }]; },
        afterFit: s => { s.width = 51; s.paddingTop = 0; s.paddingBottom = 0; },
        ticks: { display: false },
        grid: { color: '#c0c0c0', drawTicks: false },
        border: { display: true, color: '#000000', dash: [2, 2] }
      }
    }
  },
  plugins: [rsiOverlay]
});
</script>
</body>
</html>
